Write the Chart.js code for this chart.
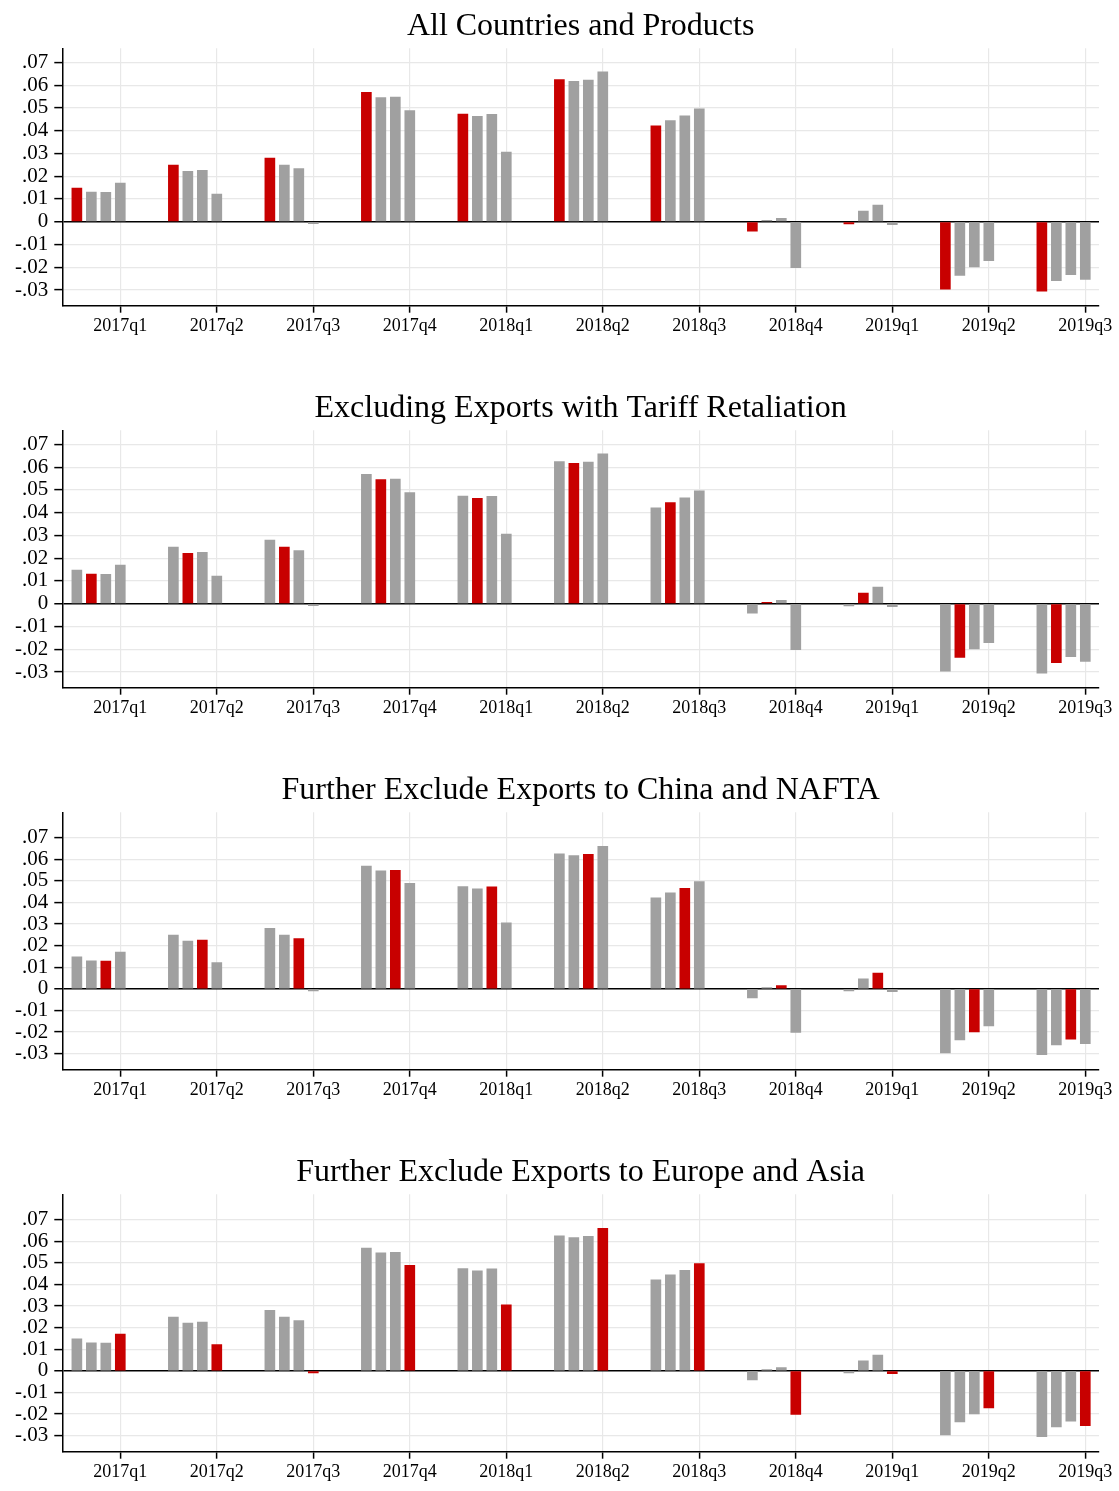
<!DOCTYPE html>
<html>
<head>
<meta charset="utf-8">
<script src="https://cdn.jsdelivr.net/npm/chart.js@4/dist/chart.umd.min.js"></script>
<style>
  html, body { margin: 0; padding: 0; background: #ffffff; }
  body { width: 1119px; height: 1491px; position: relative; overflow: hidden; }
  .panel { position: absolute; left: 0; width: 1119px; height: 345px; }
</style>
</head>
<body>
<div class="panel" style="top:0px"><canvas id="c0"></canvas></div>
<div class="panel" style="top:382px"><canvas id="c1"></canvas></div>
<div class="panel" style="top:764px"><canvas id="c2"></canvas></div>
<div class="panel" style="top:1146px"><canvas id="c3"></canvas></div>
<script>
// ---- data ----
const quarters = ['2017q1','2017q2','2017q3','2017q4','2018q1','2018q2','2018q3','2018q4','2019q1','2019q2','2019q3'];
const series1 = [0.0148, 0.0249, 0.0280, 0.0568, 0.0473, 0.0625, 0.0421, -0.0042, -0.0010, -0.0296, -0.0305];
const series2 = [0.0130, 0.0221, 0.0249, 0.0546, 0.0463, 0.0617, 0.0444, 0.0006, 0.0047, -0.0236, -0.0259];
const series3 = [0.0129, 0.0226, 0.0233, 0.0548, 0.0472, 0.0622, 0.0465, 0.0015, 0.0073, -0.0199, -0.0233];
const series4 = [0.0170, 0.0122, -0.0009, 0.0488, 0.0306, 0.0659, 0.0496, -0.0202, -0.0013, -0.0171, -0.0253];
const yTickValues = [-0.03, -0.02, -0.01, 0, 0.01, 0.02, 0.03, 0.04, 0.05, 0.06, 0.07];
const panelTitles = [
  'All Countries and Products',
  'Excluding Exports with Tariff Retaliation',
  'Further Exclude Exports to China and NAFTA',
  'Further Exclude Exports to Europe and Asia'
];
const highlighted = [0, 1, 2, 3];
const yMaxes = [0.0762, 0.0762, 0.0817, 0.0817];
const yMins = [-0.0369, -0.0369, -0.0374, -0.0374];

// ---- styling ----
const allSeries = [series1, series2, series3, series4];
const seriesOffsets = [-0.45, -0.30, -0.15, 0];
const RED = '#c80000';
const GRAY = '#a0a0a0';
const GRID = '#e8e8e8';
const FONT = "'Liberation Serif', 'Times New Roman', serif";

function fmtY(v) {
  if (Math.abs(v) < 1e-9) return '0';
  const s = Math.abs(v).toFixed(2).replace(/^0/, '');
  return (v < 0 ? '-' : '') + s;
}

panelTitles.forEach((title, p) => {
  const datasets = allSeries.map((vals, s) => ({
    data: vals.map((v, i) => ({ x: i + seriesOffsets[s], y: v })),
    backgroundColor: s === highlighted[p] ? RED : GRAY,
    borderWidth: 0,
    barThickness: 10,
    grouped: false
  }));
  new Chart(document.getElementById('c' + p), {
    type: 'bar',
    data: { datasets },
    options: {
      responsive: true,
      maintainAspectRatio: false,
      animation: false,
      layout: { padding: { left: 0, right: 20, top: 0, bottom: 0 } },
      plugins: {
        legend: { display: false },
        tooltip: { enabled: false },
        title: {
          display: true,
          fullSize: false,
          text: title,
          color: '#000',
          font: { family: FONT, size: 32, weight: 'normal', lineHeight: 1.2 },
          padding: { top: 7.2, bottom: 2.7 }
        }
      },
      scales: {
        x: {
          type: 'linear',
          offset: false,
          min: -0.601,
          max: 10.142,
          afterBuildTicks: axis => { axis.ticks = quarters.map((q, i) => ({ value: i })); },
          afterFit: axis => { axis.height = 39.3; },
          ticks: {
            color: '#000',
            font: { family: FONT, size: 18 },
            padding: 3,
            maxRotation: 0,
            autoSkip: false,
            callback: (v) => quarters[Math.round(v)]
          },
          grid: {
            offset: false,
            color: GRID,
            lineWidth: 1.2,
            drawTicks: true,
            tickLength: 7,
            tickColor: '#000',
            tickWidth: 1.5
          },
          border: { display: true, color: '#000', width: 1.5 }
        },
        y: {
          type: 'linear',
          min: yMins[p],
          max: yMaxes[p],
          afterBuildTicks: axis => { axis.ticks = yTickValues.map(v => ({ value: v })); },
          afterFit: axis => { axis.width = 62.3; },
          ticks: {
            color: '#000',
            font: { family: FONT, size: 21 },
            padding: 6,
            autoSkip: false,
            callback: (v) => fmtY(v)
          },
          grid: {
            color: ctx => (ctx.tick && Math.abs(ctx.tick.value) < 1e-9) ? '#000' : GRID,
            lineWidth: ctx => (ctx.tick && Math.abs(ctx.tick.value) < 1e-9) ? 1.5 : 1.2,
            drawTicks: true,
            tickLength: 8,
            tickColor: '#000',
            tickWidth: 1.5
          },
          border: { display: true, color: '#000', width: 1.5 }
        }
      }
    }
  });
});
</script>
</body>
</html>
